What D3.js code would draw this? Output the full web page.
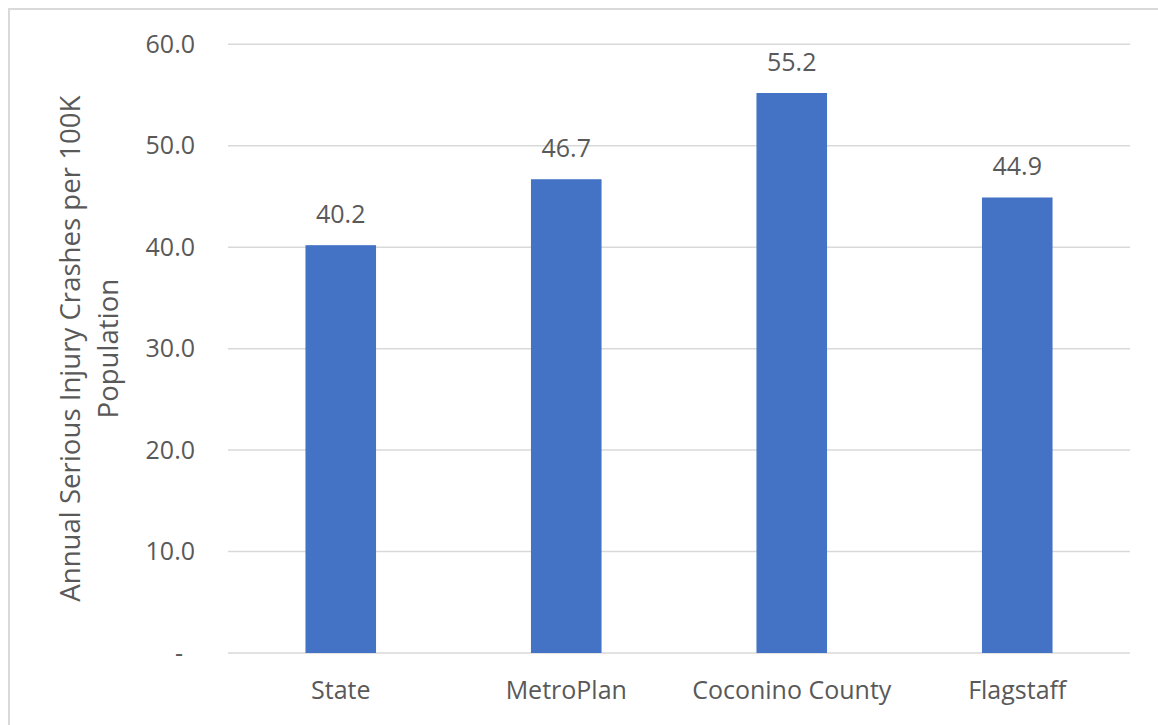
<!DOCTYPE html>
<html><head><meta charset="utf-8">
<script src="https://cdn.jsdelivr.net/npm/d3@7"></script>
<style>body{margin:0;background:#fff}svg{display:block}text{font-family:"Open Sans",sans-serif;fill:#595959}</style>
</head><body>
<script>
const categories = ["State", "MetroPlan", "Coconino County", "Flagstaff"];
const values = [40.2, 46.7, 55.2, 44.9];
const yTicks = [0, 10, 20, 30, 40, 50, 60];
const yTickLabels = ["-", "10.0", "20.0", "30.0", "40.0", "50.0", "60.0"];
const yTitleLines = ["Annual Serious Injury Crashes per 100K", "Population"];

const W = 1158, H = 725;
const m = {left: 228, right: 28, top: 44.3, bottom: 72};
const FS = "25px";
const svg = d3.select("body").append("svg").attr("width", W).attr("height", H);

svg.append("rect").attr("x", 9).attr("y", 9).attr("width", W + 10).attr("height", H + 10)
  .attr("fill", "none").attr("stroke", "#d9d9d9").attr("stroke-width", 2);

const x = d3.scaleBand().domain(categories).range([m.left, W - m.right]).paddingInner(0.687).paddingOuter(0.3435);
const y = d3.scaleLinear().domain([0, 60]).range([H - m.bottom, m.top]);

// gridlines
svg.append("g").selectAll("line").data(yTicks).join("line")
  .attr("x1", m.left).attr("x2", W - m.right)
  .attr("y1", d => y(d)).attr("y2", d => y(d))
  .attr("stroke", "#d9d9d9").attr("stroke-width", 1.5);

// y axis labels
const yAxis = d3.axisLeft(y).tickValues(yTicks).tickSize(0).tickPadding(0)
  .tickFormat((d, i) => yTickLabels[i]);
const gy = svg.append("g").attr("transform", `translate(195,0)`).call(yAxis);
gy.select(".domain").remove();
gy.selectAll("text").style("font-size", FS).attr("fill", "#595959").attr("font-family", "Open Sans");
gy.selectAll(".tick").filter(d => d === 0).select("text").attr("dx", -12);

// bars
svg.append("g").selectAll("rect").data(values).join("rect")
  .attr("x", (d, i) => x(categories[i])).attr("width", x.bandwidth())
  .attr("y", d => y(d)).attr("height", d => y(0) - y(d))
  .attr("fill", "#4472C4");

// value labels
svg.append("g").selectAll("text").data(values).join("text")
  .attr("x", (d, i) => x(categories[i]) + x.bandwidth() / 2)
  .attr("y", d => y(d) - 22)
  .attr("text-anchor", "middle").style("font-size", FS)
  .text(d => d.toFixed(1));

// x axis labels
const xAxis = d3.axisBottom(x).tickSize(0).tickPadding(0);
const gx = svg.append("g").attr("transform", `translate(0,${y(0)})`).call(xAxis);
gx.select(".domain").remove();
gx.selectAll("text").attr("dy", 0).attr("y", 46).style("font-size", FS)
  .attr("fill", "#595959").attr("font-family", "Open Sans");

// y title
const t = svg.append("text").attr("transform", `translate(80,${(m.top + y(0)) / 2}) rotate(-90)`)
  .attr("text-anchor", "middle").style("font-size", "27.6px");
t.selectAll("tspan").data(yTitleLines).join("tspan")
  .attr("x", 0).attr("dy", (d, i) => i === 0 ? 0 : 38).text(d => d);
</script>
</body></html>
